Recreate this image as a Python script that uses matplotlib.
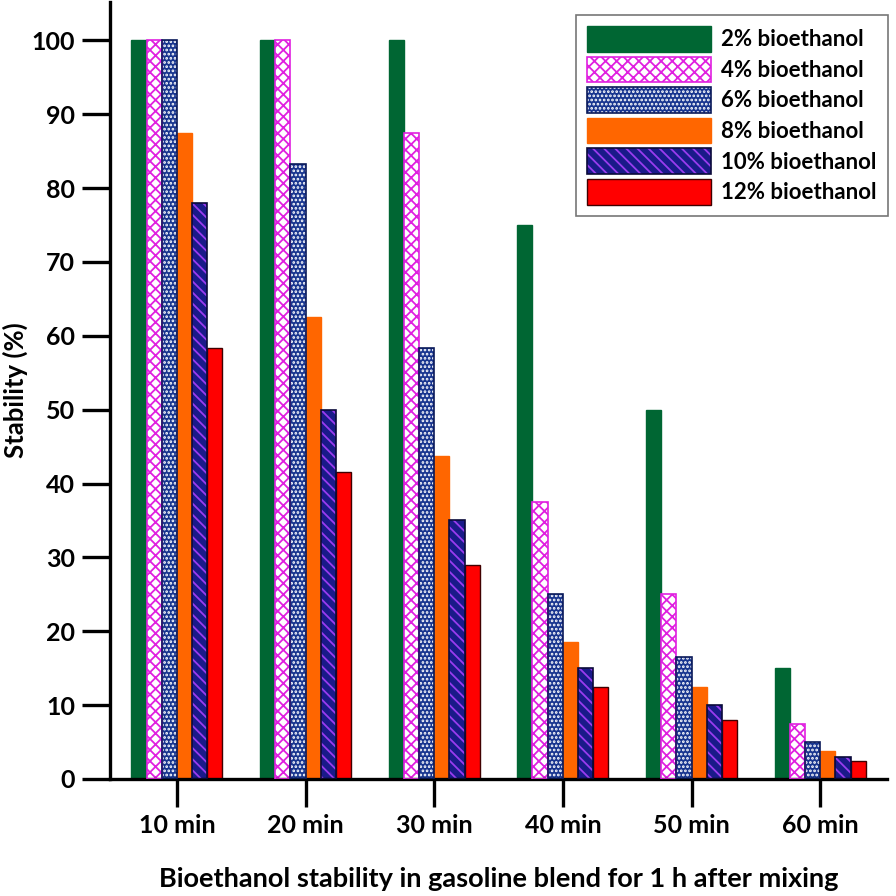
import matplotlib
matplotlib.use("Agg")
import matplotlib.pyplot as plt
import numpy as np
from matplotlib.legend_handler import HandlerTuple

plt.rcParams['font.family'] = ['Lato', 'DejaVu Sans']
plt.rcParams['font.weight'] = 'bold'
plt.rcParams['hatch.linewidth'] = 1.3

categories = ['10 min', '20 min', '30 min', '40 min', '50 min', '60 min']
series_names = ['2% bioethanol', '4% bioethanol', '6% bioethanol',
                '8% bioethanol', '10% bioethanol', '12% bioethanol']
values = [
    [100, 100, 100, 75, 50, 15],
    [100, 100, 87.5, 37.5, 25, 7.5],
    [100, 83.3, 58.3, 25, 16.5, 5],
    [87.5, 62.5, 43.7, 18.5, 12.5, 3.8],
    [78, 50, 35, 15, 10, 3],
    [58.3, 41.6, 29, 12.5, 8, 2.5],
]
y_ticks = [0, 10, 20, 30, 40, 50, 60, 70, 80, 90, 100]

# style: (face, hatch, hatchcolor, outline)
styles = [
    ('#006633', None, None, '#006633'),
    ('white', 'xxx', '#e020e0', '#e020e0'),
    ('#18358f', '....', 'white', '#0a1a5a'),
    ('#ff6600', None, None, '#ff6600'),
    ('#1a1a8a', '\\\\\\', '#9a3cf0', '#0a0a3a'),
    ('#ff0000', None, None, '#400000'),
]

fig = plt.figure(figsize=(8.96, 8.96), dpi=100)
ax = fig.add_axes([0.1228, 0.1306, 0.99 - 0.1228, 0.9978 - 0.1306])

x = np.arange(len(categories))
n = len(series_names)
w = 0.118
handles = []
for i, (name, vals) in enumerate(zip(series_names, values)):
    face, hatch, hcol, outline = styles[i]
    pos = x + (i - (n - 1) / 2) * w
    if hatch:
        b1 = ax.bar(pos, vals, w, color=face, edgecolor=hcol, hatch=hatch,
                    linewidth=0, zorder=2)
        b2 = ax.bar(pos, vals, w, fill=False, edgecolor=outline,
                    linewidth=1.2, zorder=3)
        handles.append((b1.patches[0], b2.patches[0]))
    else:
        b1 = ax.bar(pos, vals, w, color=face, edgecolor=outline,
                    linewidth=1.0, zorder=2)
        handles.append(b1.patches[0])

ax.set_xlim(-0.52, 5.52)
ax.set_ylim(0, 105.2)
ax.set_yticks(y_ticks)
ax.set_xticks(x)
ax.set_xticklabels(categories)
for s in ['top', 'right']:
    ax.spines[s].set_visible(False)
for s in ['left', 'bottom']:
    ax.spines[s].set_linewidth(2.4)
ax.tick_params(axis='both', direction='out', length=20, width=2.4,
               labelsize=18, pad=5)
for lab in ax.get_xticklabels() + ax.get_yticklabels():
    lab.set_fontweight('bold')

ax.set_xlabel('Bioethanol stability in gasoline blend for 1 h after mixing',
              fontsize=19.5, fontweight='bold', labelpad=22)
ax.set_ylabel('Stability (%)', fontsize=18.5, fontweight='bold', labelpad=3)

leg = ax.legend(handles, series_names, loc='upper right',
                bbox_to_anchor=(888 / 896, 1 - 15 / 896),
                bbox_transform=fig.transFigure, borderaxespad=0,
                handlelength=5.6, handleheight=1.4, labelspacing=0.22,
                handletextpad=0.45, borderpad=0.5,
                fancybox=False,
                handler_map={tuple: HandlerTuple(ndivide=1, pad=0)},
                prop={'weight': 'bold', 'size': 16})
leg.get_frame().set_edgecolor('#555555')
leg.get_frame().set_linewidth(1.2)

fig.savefig('out.png', dpi=100)
